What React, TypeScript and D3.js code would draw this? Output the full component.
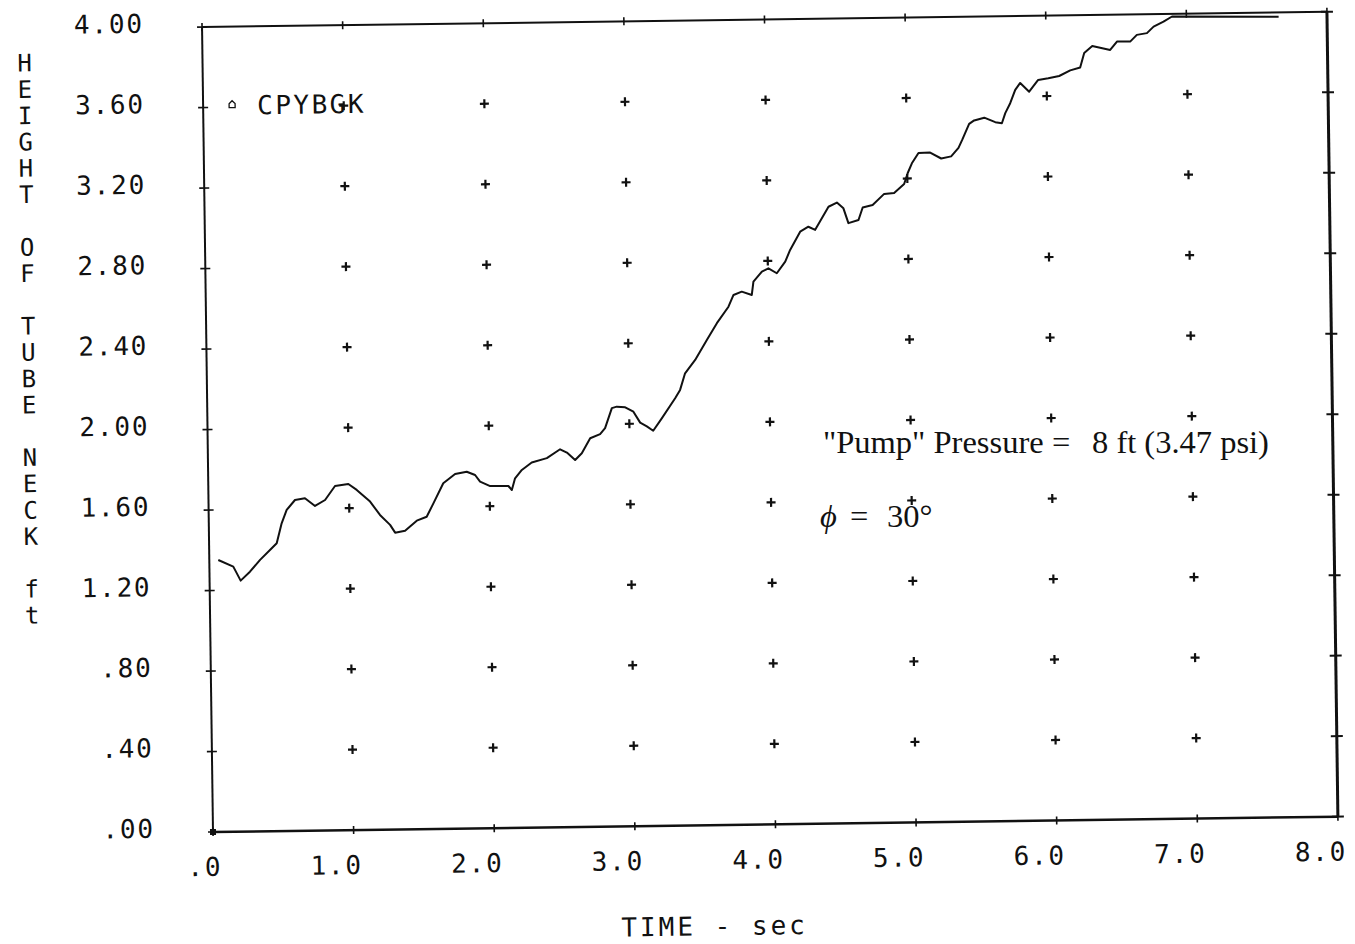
import React from "react";
import * as d3 from "d3";

// ---- data ----
const timeSec = [
  0.064,0.170,0.221,0.288,0.361,0.445,0.481,0.518,0.555,0.615,
  0.686,0.757,0.829,0.901,0.996,1.055,1.149,1.218,1.289,1.324,
  1.395,1.479,1.550,1.599,1.671,1.756,1.839,1.898,1.933,2.004,
  2.134,2.158,2.182,2.231,2.302,2.410,2.505,2.553,2.611,2.659,
  2.720,2.791,2.827,2.877,2.912,2.972,3.030,3.077,3.124,3.169,
  3.231,3.328,3.364,3.401,3.474,3.559,3.632,3.716,3.753,3.812,
  3.883,3.896,3.957,4.004,4.063,4.124,4.160,4.233,4.292,4.340,
  4.437,4.497,4.543,4.577,4.649,4.680,4.751,4.834,4.905,4.977,
  5.003,5.034,5.082,5.165,5.243,5.314,5.367,5.394,5.445,5.481,
  5.553,5.631,5.678,5.703,5.739,5.776,5.812,5.875,5.940,6.012,
  6.090,6.169,6.240,6.270,6.328,6.455,6.504,6.598,6.646,6.718,
  6.766,6.837,6.898,7.656,
];
const heightFt = [
  1.351,1.317,1.247,1.291,1.349,1.406,1.430,1.529,1.595,1.644,
  1.652,1.613,1.642,1.711,1.720,1.690,1.631,1.564,1.514,1.475,
  1.484,1.533,1.552,1.618,1.717,1.762,1.773,1.756,1.723,1.700,
  1.699,1.679,1.737,1.778,1.814,1.835,1.878,1.861,1.824,1.857,
  1.931,1.951,1.980,2.079,2.086,2.082,2.060,2.005,1.986,1.964,
  2.025,2.124,2.165,2.247,2.313,2.411,2.494,2.575,2.633,2.649,
  2.632,2.698,2.747,2.763,2.738,2.795,2.853,2.943,2.967,2.951,
  3.065,3.085,3.056,2.982,2.997,3.059,3.071,3.125,3.129,3.173,
  3.226,3.275,3.326,3.327,3.297,3.307,3.349,3.388,3.467,3.484,
  3.497,3.474,3.468,3.518,3.567,3.633,3.667,3.623,3.681,3.688,
  3.699,3.726,3.740,3.812,3.846,3.825,3.866,3.865,3.898,3.906,
  3.938,3.962,3.987,3.979,
];

const xTickValues = [0, 1, 2, 3, 4, 5, 6, 7, 8];
const xTickLabels = [".0", "1.0", "2.0", "3.0", "4.0", "5.0", "6.0", "7.0", "8.0"];
const yTickValues = [0, 0.4, 0.8, 1.2, 1.6, 2.0, 2.4, 2.8, 3.2, 3.6, 4.0];
const yTickLabels = [".00", ".40", ".80", "1.20", "1.60", "2.00", "2.40", "2.80", "3.20", "3.60", "4.00"];
const gridTimes = [1, 2, 3, 4, 5, 6, 7];
const gridHeights = [0.4, 0.8, 1.2, 1.6, 2.0, 2.4, 2.8, 3.2, 3.6];

const yTitle = "HEIGHT OF TUBE NECK ft";
const xTitle = "TIME - sec";
const legendLabel = "CPYBGK";

const W = 1355;
const H = 944;
const L = 213, R = 1338, T = 27, B = 832;
const MONO = "'DejaVu Sans Mono', monospace";
const SERIF = "'Liberation Serif', 'Times New Roman', serif";

export default function App() {
  const x = d3.scaleLinear().domain([0, 8]).range([L, R]);
  const y = d3.scaleLinear().domain([0, 4]).range([B, T]);
  const pts = timeSec.map((t, i) => [t, heightFt[i]] as [number, number]);
  const line = d3.line<[number, number]>().x((d) => x(d[0])).y((d) => y(d[1]));

  const ink = "#111";
  const ls = 1.8;
  const fs = 26;

  return (
    <svg
      width={W}
      height={H}
      viewBox={`0 0 ${W} ${H}`}
      style={{ position: "absolute", left: 0, top: 0, display: "block", background: "#fff" }}
    >
      <rect x={0} y={0} width={W} height={H} fill="#fff" />
      <g transform={`rotate(-0.78 ${L} ${B})`}>
        {/* frame */}
        <line x1={L} y1={T} x2={L} y2={B} stroke={ink} strokeWidth={2} />
        <line x1={L} y1={B} x2={R} y2={B} stroke={ink} strokeWidth={2.5} />
        <line x1={L} y1={T} x2={R} y2={T} stroke={ink} strokeWidth={2} />
        <line x1={R} y1={T} x2={R} y2={B} stroke={ink} strokeWidth={3} />
        <rect x={L - 3} y={B - 3} width={6} height={6} fill={ink} />

        {/* y ticks left + right */}
        {yTickValues.map((v, i) => (
          <g key={"yt" + i}>
            <line x1={L - 5} x2={L + 5} y1={y(v)} y2={y(v)} stroke={ink} strokeWidth={1.6} />
            <line x1={R - 6} x2={R + 6} y1={y(v)} y2={y(v)} stroke={ink} strokeWidth={2} />
            <text
              x={L - 60 + ls}
              y={y(v) + 5}
              textAnchor="end"
              fontFamily={MONO}
              fontSize={fs}
              letterSpacing={ls}
              fill={ink}
            >
              {yTickLabels[i]}
            </text>
          </g>
        ))}

        {/* x ticks bottom + top */}
        {xTickValues.map((v, i) => (
          <g key={"xt" + i}>
            <line x1={x(v)} x2={x(v)} y1={B - 4} y2={B + 4} stroke={ink} strokeWidth={1.6} />
            <line x1={x(v)} x2={x(v)} y1={T - 4} y2={T + 4} stroke={ink} strokeWidth={1.6} />
            <text
              x={x(v) + 7 + ls}
              y={B + 44}
              textAnchor="end"
              fontFamily={MONO}
              fontSize={fs}
              letterSpacing={ls}
              fill={ink}
            >
              {xTickLabels[i]}
            </text>
          </g>
        ))}

        {/* interior grid crosses */}
        {gridTimes.map((t) =>
          gridHeights.map((h) => (
            <g key={`g${t}-${h}`}>
              <line x1={x(t) - 4.5} x2={x(t) + 4.5} y1={y(h)} y2={y(h)} stroke={ink} strokeWidth={2.2} />
              <line x1={x(t)} x2={x(t)} y1={y(h) - 4.5} y2={y(h) + 4.5} stroke={ink} strokeWidth={2.2} />
            </g>
          ))
        )}

        {/* data curve */}
        <path d={line(pts) || ""} fill="none" stroke={ink} strokeWidth={2} strokeLinejoin="round" />

        {/* legend */}
        <polygon
          points={`${239},${108} ${245},${108} ${245},${104} ${242},${101} ${239},${104}`}
          fill="none"
          stroke={ink}
          strokeWidth={1.3}
        />
        <text x={267} y={115} fontFamily={MONO} fontSize={fs} letterSpacing={2.5} fill={ink}>
          {legendLabel}
        </text>

        {/* y title, stacked letters */}
        {yTitle.split("").map((c, i) =>
          c === " " ? null : (
            <text
              key={"yl" + i}
              x={35}
              y={60 + i * 26.3 + 9}
              textAnchor="middle"
              fontFamily={MONO}
              fontSize={24}
              fill={ink}
            >
              {c}
            </text>
          )
        )}

        {/* x title */}
        <text x={620} y={942} fontFamily={MONO} fontSize={fs} letterSpacing={3} fill={ink}>
          {xTitle}
        </text>
      </g>

      {/* annotation (pasted, not rotated) */}
      <g fontFamily={SERIF} fontSize={32.5} fill={ink}>
        <text x={823} y={453}>"Pump" Pressure</text>
        <text x={1052} y={453}>=</text>
        <text x={1092} y={453}>8 ft (3.47 psi)</text>
        <text x={820} y={527} fontStyle="italic">ϕ</text>
        <text x={850} y={527}>=</text>
        <text x={887} y={527}>30°</text>
      </g>
    </svg>
  );
}
